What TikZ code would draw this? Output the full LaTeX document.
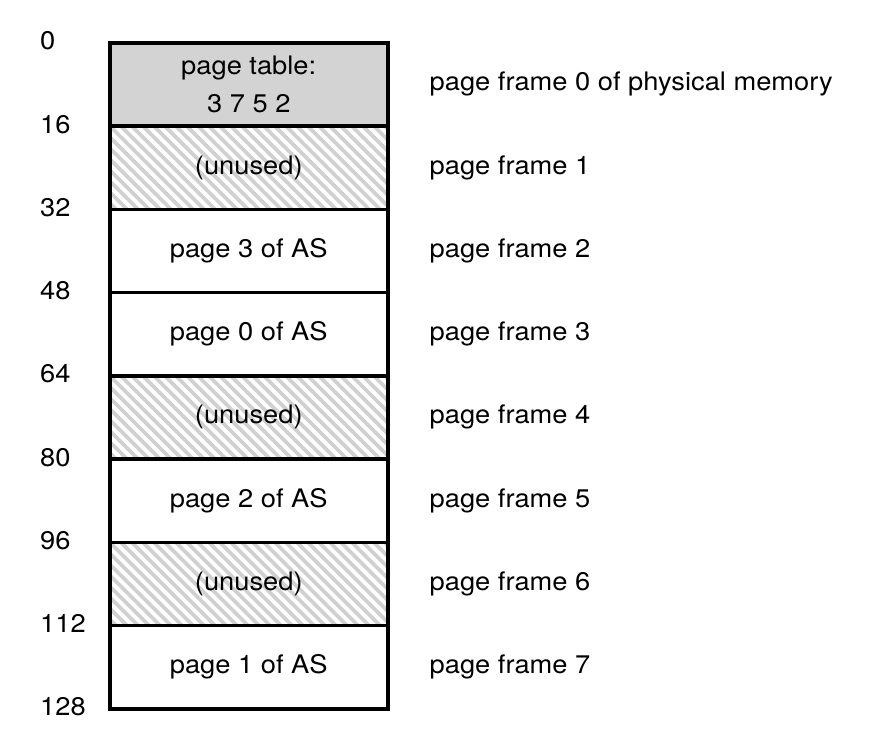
\documentclass[tikz,border=0pt]{standalone}
\usepackage{fontspec}
\setmainfont[FakeStretch=1.07]{TeX Gyre Heros}
\definecolor{tablegray}{HTML}{D3D3D3}
\definecolor{hatchgray}{HTML}{D0D0D0}
\begin{document}
\begin{tikzpicture}[x=1pt,y=-1pt,
  txt/.style={font=\fontsize{25.5}{38}\selectfont, inner sep=0pt},
  cell/.style={txt, draw=black, line width=3.5pt, minimum width=278pt,
    minimum height=83.25pt, anchor=north west, align=center},
  tablecell/.style={cell, fill=tablegray},
  hatched/.style={cell, path picture={
      \foreach \k in {-10,...,28}
        \draw[hatchgray, line width=3.8pt]
          ([xshift=\k*11pt]path picture bounding box.north west)
          -- ++(90,90);
    }},
  addr/.style={txt, anchor=west},
  frame/.style={txt, anchor=west}]
\useasboundingbox (0,0) rectangle (889,744);

% physical memory, one cell per page frame
\node[tablecell] (f0) at (108,41) {page table:\\3 7 5 2};
\node[hatched]   (f1) at (108,124.25) {(unused)};
\node[cell]      (f2) at (108,207.5) {page 3 of AS};
\node[cell]      (f3) at (108,290.75) {page 0 of AS};
\node[hatched]   (f4) at (108,374) {(unused)};
\node[cell]      (f5) at (108,457.25) {page 2 of AS};
\node[hatched]   (f6) at (108,540.5) {(unused)};
\node[cell]      (f7) at (108,623.75) {page 1 of AS};

% addresses at the frame boundaries
\node[addr] (a0)   at (40,41)     {0};
\node[addr] (a16)  at (40,124.25) {16};
\node[addr] (a32)  at (40,207.5)  {32};
\node[addr] (a48)  at (40,290.75) {48};
\node[addr] (a64)  at (40,374)    {64};
\node[addr] (a80)  at (40,457.25) {80};
\node[addr] (a96)  at (40,540.5)  {96};
\node[addr] (a112) at (40,623.75) {112};
\node[addr] (a128) at (40,707)    {128};

% frame labels on the right
\foreach \i/\t in {0/page frame 0 of physical memory,1/page frame 1,2/page frame 2,
    3/page frame 3,4/page frame 4,5/page frame 5,6/page frame 6,7/page frame 7}
  \node[frame] (l\i) at ([xshift=40pt]f\i.east) {\t};
\end{tikzpicture}
\end{document}
